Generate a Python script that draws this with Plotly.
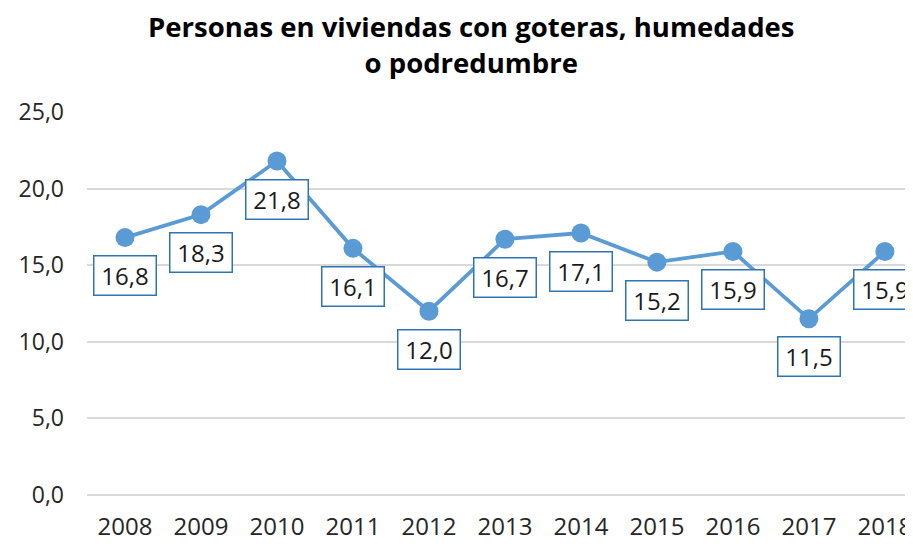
import plotly.graph_objects as go

years = ["2008", "2009", "2010", "2011", "2012", "2013", "2014", "2015", "2016", "2017", "2018"]
values = [16.8, 18.3, 21.8, 16.1, 12.0, 16.7, 17.1, 15.2, 15.9, 11.5, 15.9]
y_ticks = [0, 5, 10, 15, 20, 25]
y_tick_labels = ["0,0", "5,0", "10,0", "15,0", "20,0", "25,0"]
title_text = "Personas en viviendas con goteras, humedades<br>o podredumbre"

FONT = "'Open Sans', 'Noto Sans', sans-serif"
LINE = "#5B9BD5"

fig = go.Figure()
fig.add_trace(go.Scatter(
    x=list(range(len(years))), y=values, mode="lines+markers",
    line=dict(color=LINE, width=3.8),
    marker=dict(color=LINE, size=19),
    hoverinfo="skip", cliponaxis=False,
))

for i, v in enumerate(values):
    fig.add_annotation(
        x=i, y=v, xref="x", yref="y",
        text=f"{v:.1f}".replace(".", ","),
        showarrow=False, yshift=-38,
        width=53, height=30,
        font=dict(family=FONT, size=24, color="#1a1a1a"),
        bgcolor="white", bordercolor="#2E75B6", borderwidth=1.5, borderpad=4,
    )

fig.add_annotation(
    xref="paper", yref="paper", x=0.466, y=1.1775, xanchor="center", yanchor="middle",
    text="<b>" + title_text + "</b>", showarrow=False, align="center", borderpad=0,
    font=dict(family=FONT, size=27.5, color="#000000"),
)

fig.update_layout(
    width=905, height=536,
    margin=dict(l=79, r=0, t=104, b=49),
    paper_bgcolor="white", plot_bgcolor="white",
    showlegend=False,
    xaxis=dict(
        range=[-0.5, 10.37], tickmode="array",
        tickvals=list(range(len(years))), ticktext=years,
        showgrid=False, zeroline=False, showline=False, ticks="",
        ticklabelstandoff=15,
        tickfont=dict(family=FONT, size=24, color="#262626"),
    ),
    yaxis=dict(
        range=[0, 25], tickmode="array", tickvals=y_ticks, ticktext=y_tick_labels,
        showgrid=True, gridcolor="#D9D9D9", gridwidth=1.5,
        zeroline=True, zerolinecolor="#D9D9D9", zerolinewidth=1.5, showline=False,
        ticks="", ticklabelstandoff=22,
        tickfont=dict(family=FONT, size=23, color="#262626"),
    ),
)

fig.write_html("out.html")
